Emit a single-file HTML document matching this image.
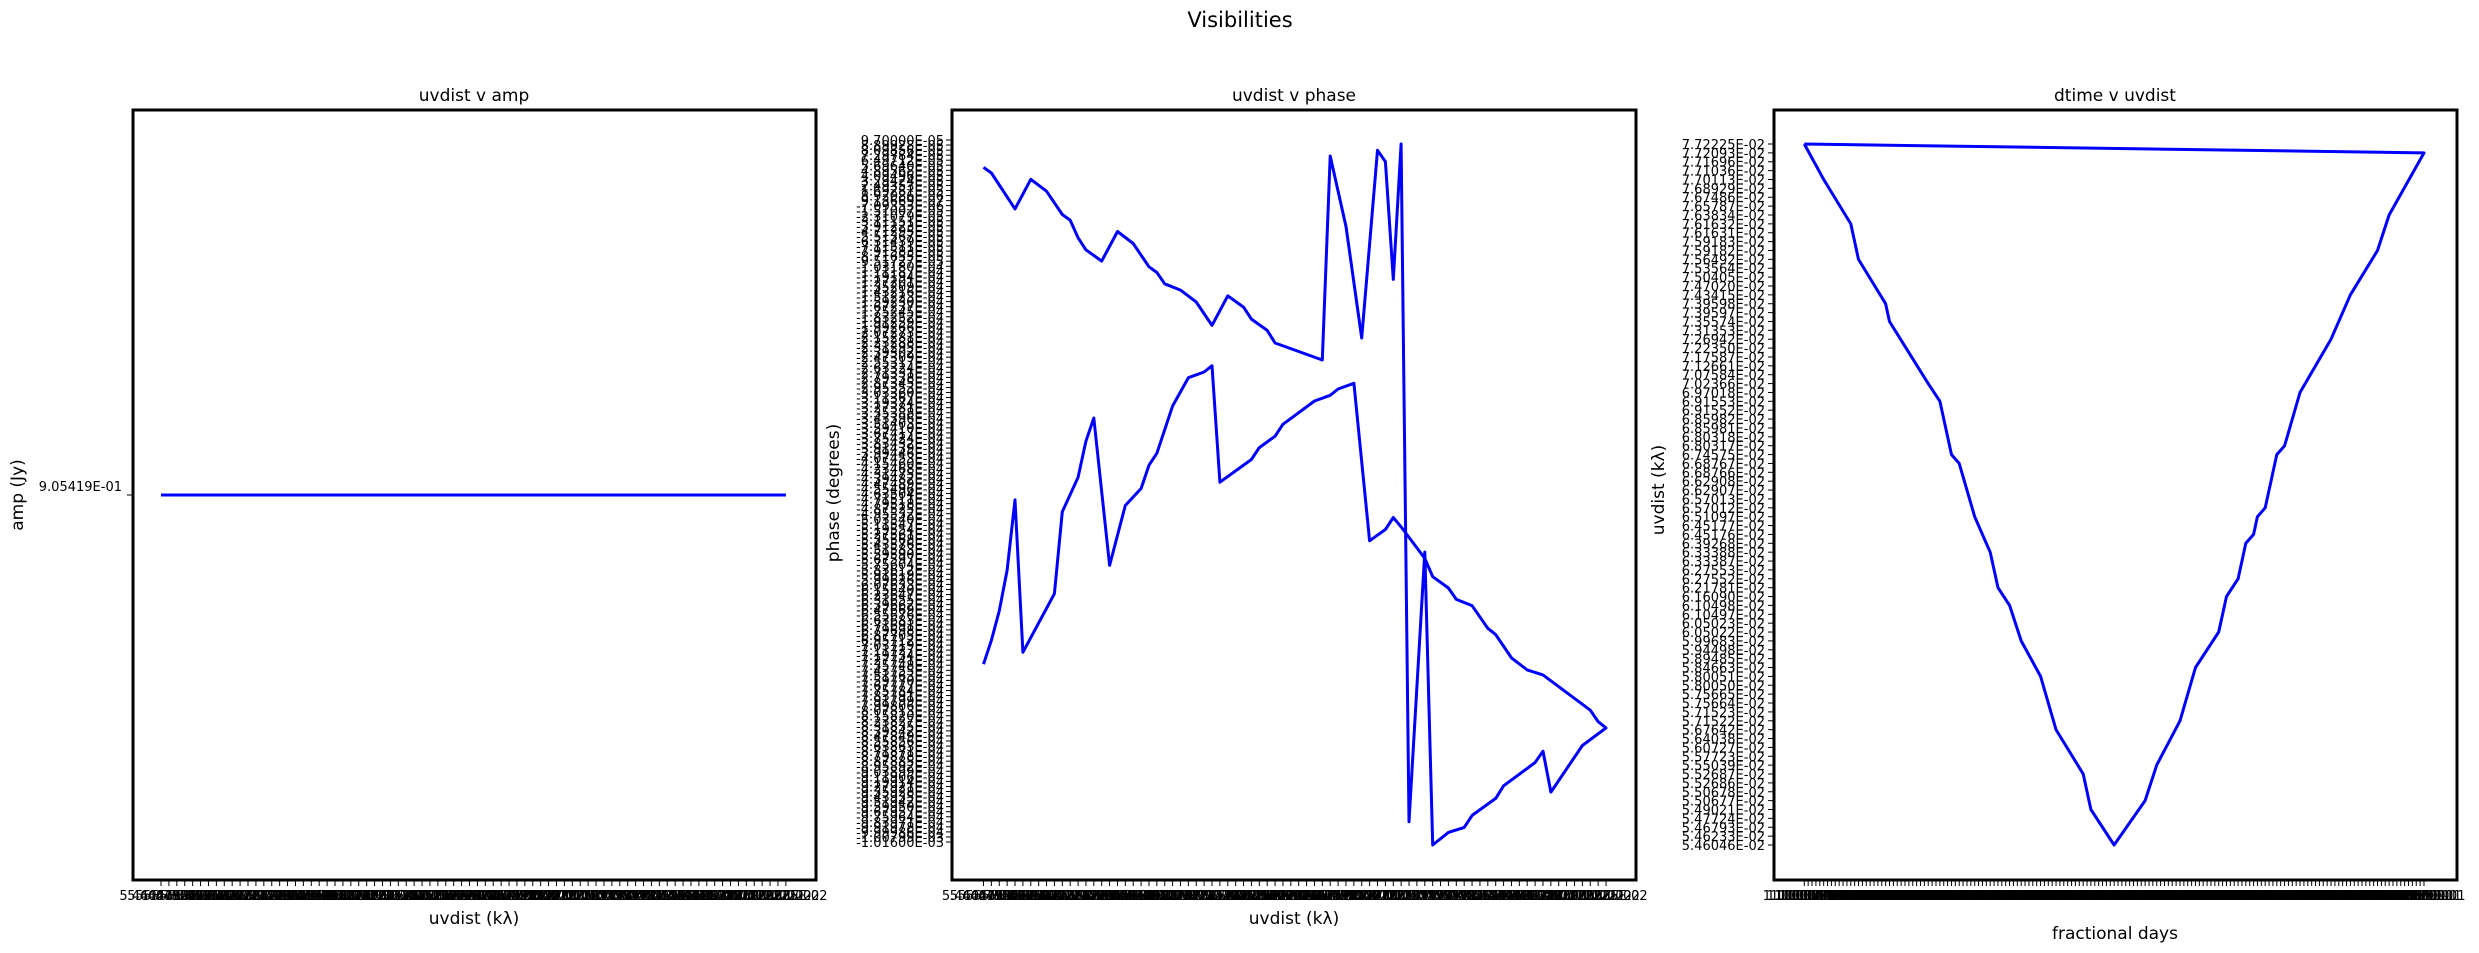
<!DOCTYPE html>
<html><head><meta charset="utf-8"><title>Visibilities</title>
<style>
html,body{margin:0;padding:0;background:#fff;}
svg{display:block;font-family:"DejaVu Sans","Liberation Sans",sans-serif;}
</style></head>
<body>
<svg id="fig" xmlns="http://www.w3.org/2000/svg" width="2479" height="953" viewBox="0 0 2479 953">
<rect x="0" y="0" width="2479" height="953" fill="#fff"/>
<text x="1240" y="27" font-size="21" text-anchor="middle">Visibilities</text>
<text x="474" y="101" font-size="17" text-anchor="middle">uvdist v amp</text>
<text x="1294" y="101" font-size="17" text-anchor="middle">uvdist v phase</text>
<text x="2115" y="101" font-size="17" text-anchor="middle">dtime v uvdist</text>
<text x="474" y="924" font-size="17" text-anchor="middle">uvdist (kλ)</text>
<text x="1294" y="924" font-size="17" text-anchor="middle">uvdist (kλ)</text>
<text x="2115" y="939" font-size="17" text-anchor="middle">fractional days</text>
<text transform="translate(23,495) rotate(-90)" font-size="17" text-anchor="middle">amp (Jy)</text>
<text transform="translate(839,493) rotate(-90)" font-size="17" text-anchor="middle">phase (degrees)</text>
<text transform="translate(1664,490) rotate(-90)" font-size="17" text-anchor="middle">uvdist (kλ)</text>
<g id="layer"></g>
</svg>
<script>
// ---- data ----
// uvdist categories (x1e-2 klambda), ascending
const uvAsc = [5.46046,5.46233,5.46793,5.47724,5.49021,5.50677,5.50678,5.52686,5.52687,5.55039,
5.57723,5.60727,5.64038,5.67642,5.71522,5.71523,5.75664,5.75665,5.80050,5.80051,
5.84663,5.89485,5.94498,5.99683,6.05022,6.05023,6.10497,6.10498,6.16090,6.21781,
6.27552,6.27553,6.33387,6.33388,6.39268,6.45176,6.45177,6.51097,6.57012,6.57013,
6.62907,6.62908,6.68766,6.68767,6.74575,6.80317,6.80318,6.85981,6.85982,6.91552,
6.91553,6.97018,7.02366,7.07584,7.12661,7.17587,7.22350,7.26942,7.31353,7.35574,
7.39597,7.39598,7.43415,7.47020,7.50405,7.53564,7.56492,7.59182,7.59183,7.61631,
7.61632,7.63834,7.65787,7.67486,7.68929,7.70113,7.71036,7.71696,7.72093,7.72225];
// amp panel
const ampCat = [0, 79];
const ampVals = [0.905419, 0.905419];
const ampTickLabels = ["9.05419E-01"];
// phase panel: uvdist category index and phase (x1e-3)
const phaseCat = [0,1,4,6,8,10,11,12,13,15,17,19,21,22,23,25,27,29,31,33,34,36,37,43,44,46,48,50,51,52,53,54,56,57,59,61,62,65,66,70,71,72,76,79,78,77,71,69,67,65,64,62,60,59,57,56,53,52,51,49,47,45,44,42,38,37,35,34,30,29,28,26,24,22,21,20,18,16,14,13,12,10,9,5,4,3,2,1,0];
const phaseVals = [0.060,0.051,-0.006,0.041,0.022,-0.015,-0.024,-0.052,-0.071,-0.089,-0.042,-0.061,-0.098,-0.107,-0.125,-0.135,-0.154,-0.191,-0.144,-0.162,-0.181,-0.199,-0.219,-0.246,0.078,-0.034,-0.211,0.087,0.069,-0.118,0.097,-0.979,-0.551,-1.016,-0.996,-0.988,-0.969,-0.942,-0.922,-0.885,-0.867,-0.932,-0.858,-0.830,-0.820,-0.802,-0.746,-0.738,-0.719,-0.682,-0.672,-0.636,-0.626,-0.608,-0.590,-0.561,-0.511,-0.496,-0.515,-0.533,-0.283,-0.292,-0.302,-0.311,-0.348,-0.367,-0.385,-0.404,-0.440,-0.255,-0.265,-0.274,-0.319,-0.394,-0.413,-0.450,-0.477,-0.572,-0.338,-0.375,-0.432,-0.487,-0.617,-0.710,-0.468,-0.580,-0.644,-0.691,-0.729];
// dtime panel: time sample index and uvdist
const dtimeIdx = [0,5,12,14,21,22,32,35,38,40,44,45,47,48,50,53,56,61,65,72,74,80,88,91,97,101,107,109,112,114,116,117,119,122,124,128,136,141,148,151,160,0];
const dtimeUv = [7.72225,7.70113,7.61632,7.56492,7.39598,7.35574,7.02366,6.91553,6.74575,6.68767,6.51097,6.45177,6.39268,6.33388,6.21781,6.10498,5.99683,5.80051,5.67642,5.52687,5.49021,5.46046,5.50677,5.55039,5.71522,5.84663,6.05022,6.16090,6.27552,6.39268,6.45176,6.51097,6.57012,6.74575,6.80317,6.97018,7.26942,7.43415,7.59182,7.63834,7.72093,7.72225];
const dtimeTickCount = 161;

// ---- layout ----
const NS = "http://www.w3.org/2000/svg";
const layer = document.getElementById('layer');
const TOP = 110, BOT = 880;
const panels = [{x0:133,x1:816,name:'amp'},{x0:952,x1:1636,name:'phase'},{x0:1774,x1:2457,name:'dtime'}];
function mk(tag, attrs, parent){const e=document.createElementNS(NS,tag);for(const k in attrs)e.setAttribute(k,attrs[k]);(parent||layer).appendChild(e);return e;}
function fmtE(v){ if(v===0) return "0.00000E+00"; const s=v.toExponential(5).toUpperCase(); const m=s.split('E'); let ex=parseInt(m[1],10); const sign=ex<0?'-':'+'; ex=Math.abs(ex); return m[0]+'E'+sign+(ex<10?'0':'')+ex; }
function nearestCat(v){let b=0,bd=1e9;for(let i=0;i<uvAsc.length;i++){const d=Math.abs(uvAsc[i]-v);if(d<bd){bd=d;b=i;}}return b;}

// axis functions
const ampX = c => 161 + c*7.91;
const ampY = v => 495 + (0.905419 - v)*2000;
const phX = c => 983.5 + c*7.88;
const phY = v => 144 + (0.097 - v)/1.113*701;
const dtX = t => 1804.3 + t*3.873;
const dtY = v => 845 - nearestCat(v)*(701/79);

function xTicks(g, xf, n, labels, y, name){
  for(let i=0;i<n;i++){
    const x=xf(i);
    const t=mk('line',{x1:x,y1:BOT,x2:x,y2:BOT+6,stroke:'#000','stroke-width':1},g);
    
    
    const tx=mk('text',{x:x,y:y,'font-size':13,'text-anchor':'middle'},g);
    tx.textContent=labels[i%labels.length];
    
    
  }
}

// frames
panels.forEach(p=>{
  const r=mk('rect',{x:p.x0,y:TOP,width:p.x1-p.x0,height:BOT-TOP,fill:'none',stroke:'#000','stroke-width':3});
  
  
});

const uvLabelStr = uvAsc.map(v=>v.toFixed(5)+"E-02");

// ---- amp panel ----
const gA = mk('g',{});


xTicks(gA, ampX, 80, uvLabelStr, 900, 'amp');
{
  const y=ampY(ampVals[0]);
  const t=mk('line',{x1:127,y1:y,x2:133,y2:y,stroke:'#000','stroke-width':1},gA);
  
  
  const tx=mk('text',{x:122,y:y-4,'font-size':13,'text-anchor':'end'},gA);
  tx.textContent=ampTickLabels[0];
  
  
  const pts=ampCat.map((c,i)=>ampX(c)+','+ampY(ampVals[i])).join(' ');
  const pl=mk('polyline',{points:pts,fill:'none',stroke:'#0000ff','stroke-width':3,'stroke-linejoin':'round'},gA);
  
  
}

// ---- phase panel ----
const gP = mk('g',{});


xTicks(gP, phX, 80, uvLabelStr, 900, 'phase');
{
  const N=140;
  for(let i=0;i<N;i++){
    const v=0.097 - i*(1.113/(N-1));
    const y=140 + i*(702/(N-1));
    const t=mk('line',{x1:946,y1:y,x2:952,y2:y,stroke:'#000','stroke-width':1},gP);
    
    
    const tx=mk('text',{x:944,y:y+5,'font-size':13,'text-anchor':'end'},gP);
    tx.textContent=fmtE(v*1e-3);
    
    
  }
  const pts=phaseCat.map((c,i)=>phX(c).toFixed(1)+','+phY(phaseVals[i]).toFixed(1)).join(' ');
  const pl=mk('polyline',{points:pts,fill:'none',stroke:'#0000ff','stroke-width':3,'stroke-linejoin':'round'},gP);
  
  
}

// ---- dtime panel ----
const gD = mk('g',{});


{
  const tl=[];
  for(let i=0;i<dtimeTickCount;i++){ tl.push((1.10000+i*0.00007).toFixed(5)+"E-01"); }
  xTicks(gD, dtX, dtimeTickCount, tl, 900, 'dtime');
  for(let k=0;k<uvAsc.length;k++){
    const y=845 - k*(701/79);
    const t=mk('line',{x1:1768,y1:y,x2:1774,y2:y,stroke:'#000','stroke-width':1},gD);
    
    
    const tx=mk('text',{x:1765,y:y+5,'font-size':13,'text-anchor':'end'},gD);
    tx.textContent=uvLabelStr[k];
    
    
  }
  const pts=dtimeIdx.map((t,i)=>dtX(t).toFixed(1)+','+dtY(dtimeUv[i]).toFixed(1)).join(' ');
  const pl=mk('polyline',{points:pts,fill:'none',stroke:'#0000ff','stroke-width':3,'stroke-linejoin':'round'},gD);
  
  
}
</script>
</body></html>
